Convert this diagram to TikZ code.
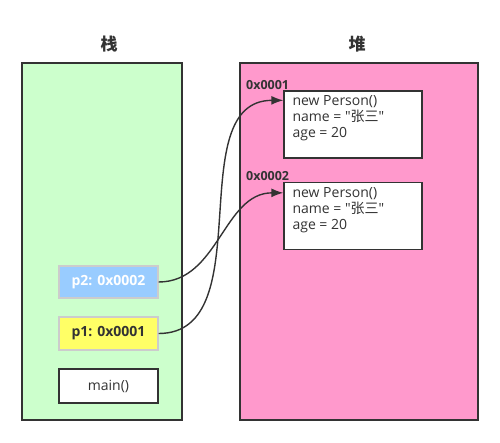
\documentclass[tikz,border=0pt]{standalone}
\usepackage{fontspec}
\setmainfont{Open Sans}
\newfontfamily\cjk{Noto Sans CJK SC}
\usetikzlibrary{arrows.meta}

\definecolor{stackgreen}{HTML}{CCFFCC}
\definecolor{heappink}{HTML}{FF99CC}
\definecolor{ptrblue}{HTML}{99CCFF}
\definecolor{ptryellow}{HTML}{FFFF66}
\definecolor{darkline}{HTML}{333333}
\definecolor{lightline}{HTML}{CCCCCC}

\tikzset{
  area/.style={draw=darkline, line width=1.5pt, inner sep=0pt},
  objbox/.style={draw=darkline, fill=white, line width=1.3pt,
    minimum width=138pt, minimum height=67pt, inner sep=0pt},
  objtext/.style={align=left, font=\fontsize{14}{16}\selectfont,
    text=darkline, inner sep=0pt},
  varbox/.style={draw=lightline, line width=1.3pt, minimum width=99pt,
    minimum height=32pt, inner sep=0pt,
    font=\bfseries\fontsize{14}{16}\selectfont},
  addr/.style={font=\bfseries\fontsize{12.5}{14}\selectfont, text=darkline,
    anchor=west, inner sep=0pt},
  title/.style={font=\cjk\bfseries\fontsize{17}{19}\selectfont, text=darkline},
  ptr/.style={draw=darkline, line width=1.4pt,
    -{Latex[length=12pt,width=9pt]}}
}

\begin{document}
\begin{tikzpicture}[x=1pt, y=-1pt]
  \useasboundingbox (0,0) rectangle (500,443);

  % 1. The two memory areas and their titles
  \node[title] (stacktitle) at (109,44) {栈};
  \node[title] (heaptitle) at (357,44) {堆};
  \node[area, fill=stackgreen, minimum width=160pt, minimum height=357pt]
    (stack) at (102,241.5) {};
  \node[area, fill=heappink, minimum width=238pt, minimum height=357pt]
    (heap) at (359,241.5) {};

  % 2. Objects on the heap
  \node[addr] (addr1) at (246,85) {0x0001};
  \node[objbox] (obj1) at (353,124.5) {};
  \node[objtext, anchor=north west] (obj1text)
    at ([xshift=9pt,yshift=-5pt]obj1.north west)
    {new Person()\\name = \textquotedbl{\cjk 张三}\textquotedbl\\age = 20};

  \node[addr] (addr2) at (246,176) {0x0002};
  \node[objbox] (obj2) at (353,216) {};
  \node[objtext, anchor=north west] (obj2text)
    at ([xshift=9pt,yshift=-5pt]obj2.north west)
    {new Person()\\name = \textquotedbl{\cjk 张三}\textquotedbl\\age = 20};

  % 3. Frames on the stack
  \node[varbox, fill=ptrblue, text=white] (p2) at (108.5,282) {p2: 0x0002};
  \node[varbox, fill=ptryellow, text=darkline, minimum height=33pt]
    (p1) at (108.5,333.5) {p1: 0x0001};
  \node[varbox, draw=darkline, fill=white, minimum height=34pt,
    font=\fontsize{14}{16}\selectfont, text=darkline] (main) at (108.5,386) {main()};

  % 4. References from the stack into the heap
  \draw[ptr] (p2.east) to[out=0, in=180] ([yshift=-11pt]obj2.north west);
  \draw[ptr] (p1.east) to[out=0, in=180] ([yshift=-10pt]obj1.north west);
\end{tikzpicture}
\end{document}
